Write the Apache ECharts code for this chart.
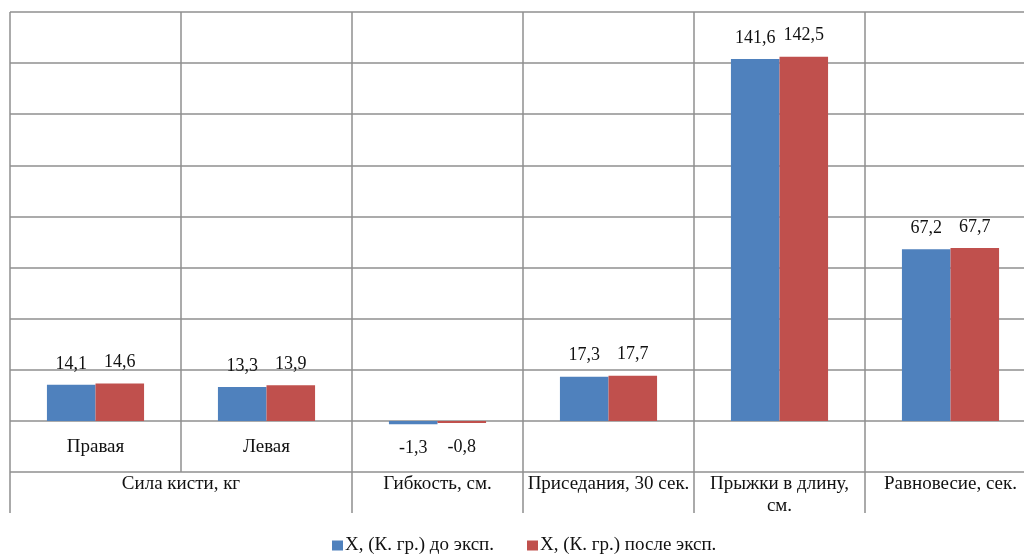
<!DOCTYPE html>
<html>
<head>
<meta charset="utf-8">
<style>
  html, body { margin: 0; padding: 0; background: #fff; overflow: hidden; }
  #chart { width: 1040px; height: 554px; }
</style>
<script src="https://cdn.jsdelivr.net/npm/echarts@6/dist/echarts.min.js"></script>
</head>
<body>
<div id="chart"></div>
<script>
// Sub-categories (first label row) and their test groups (second label row)
const subCategories = ['Правая', 'Левая', '', '', '', ''];
const groupNames = ['Сила кисти, кг', 'Гибкость, см.', 'Приседания, 30 сек.', 'Прыжки в длину,\nсм.', 'Равновесие, сек.'];
// group label centres and divider positions on the 0..6 column scale
const groupCenters = [1, 2.5, 3.5, 4.5, 5.5];
const groupDividers = [0, 2, 3, 4, 5, 6];

const seriesNames = ['Х, (К. гр.) до эксп.', 'Х, (К. гр.) после эксп.'];
const beforeValues = [14.1, 13.3, -1.3, 17.3, 141.6, 67.2];
const afterValues = [14.6, 13.9, -0.8, 17.7, 142.5, 67.7];

const colors = ['#4F81BD', '#C0504D'];
const serif = '"Liberation Serif", "DejaVu Serif", serif';
const gridColor = '#8f8f8f';
const textColor = '#111';

function barData(values) {
  return values.map(v => ({
    value: v,
    label: { position: v < 0 ? 'bottom' : 'top', distance: v < 0 ? 15 : 12 }
  }));
}

function makeSeries(name, values, color) {
  return {
    name: name,
    type: 'bar',
    xAxisIndex: 0,
    yAxisIndex: 0,
    barWidth: '28.4%',
    barGap: '0%',
    itemStyle: { color: color },
    label: {
      show: true,
      distance: 12,
      color: textColor,
      fontFamily: serif,
      fontSize: 18,
      formatter: p => String(p.value).replace('.', ',')
    },
    data: barData(values)
  };
}

const chart = echarts.init(document.getElementById('chart'), null, { renderer: 'canvas' });
chart.setOption({
  animation: false,
  backgroundColor: '#fff',
  // the plot runs a little past the right edge of the page
  grid: { left: 10, top: 12, width: 1026, height: 460, containLabel: false },
  legend: {
    top: 536,
    left: 332,
    padding: 0,
    itemWidth: 11,
    itemHeight: 10,
    itemGap: 33,
    icon: 'rect',
    textStyle: { fontFamily: serif, fontSize: 19, color: textColor, padding: [0, 0, 0, -3] },
    data: seriesNames
  },
  xAxis: [
    {
      type: 'category',
      data: subCategories,
      position: 'bottom',
      axisLine: { show: false, onZero: false },
      axisTick: { show: false },
      axisLabel: {
        inside: true,
        interval: 0,
        margin: 15,
        color: textColor,
        fontFamily: serif,
        fontSize: 19
      },
      splitLine: { show: true, interval: 0, lineStyle: { color: gridColor, width: 1.5 } }
    },
    {
      type: 'value',
      position: 'bottom',
      min: 0,
      max: 6,
      axisLine: { show: false, onZero: false },
      splitLine: { show: false },
      axisTick: {
        show: true,
        customValues: groupDividers,
        length: 41,
        lineStyle: { color: gridColor, width: 1.5 }
      },
      axisLabel: {
        customValues: groupCenters,
        margin: 1,
        verticalAlign: 'top',
        lineHeight: 22,
        color: textColor,
        fontFamily: serif,
        fontSize: 19,
        formatter: v => groupNames[groupCenters.indexOf(v)]
      }
    }
  ],
  yAxis: {
    type: 'value',
    min: -20,
    max: 160,
    interval: 20,
    axisLine: { show: false },
    axisTick: { show: false },
    axisLabel: { show: false },
    splitLine: { show: true, lineStyle: { color: gridColor, width: 1.5 } }
  },
  series: [
    makeSeries(seriesNames[0], beforeValues, colors[0]),
    makeSeries(seriesNames[1], afterValues, colors[1])
  ]
});
</script>
</body>
</html>
